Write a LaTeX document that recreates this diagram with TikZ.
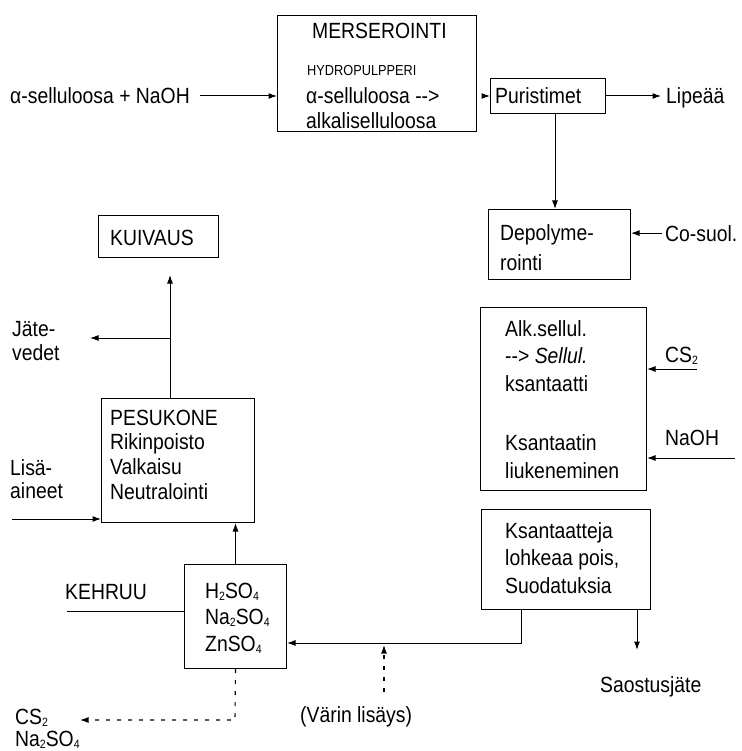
\documentclass[tikz,border=0pt]{standalone}
\usepackage{fontspec}
\setmainfont{Liberation Sans}[FakeStretch=0.88]
\usetikzlibrary{arrows.meta}
\newcommand{\chsub}[1]{\raisebox{-0.2ex}{\fontsize{12}{12}\selectfont #1}}
\begin{document}
\begin{tikzpicture}[x=1pt,y=-1pt,
  every node/.style={inner sep=0pt, font=\fontsize{22}{26}\selectfont},
  lbl/.style={anchor=base west},
  small/.style={anchor=base west, font=\fontsize{14.5}{17}\selectfont},
  procbox/.style={draw, line width=1pt, anchor=north west},
  flow/.style={line width=1pt, -{Latex[length=8.5pt,width=6pt]}},
  plain/.style={line width=1pt},
  dflow/.style={line width=1.1pt, dash pattern=on 4pt off 7pt, -{Latex[length=8.5pt,width=6pt]}}]
\useasboundingbox (0,0) rectangle (741,751);

% process boxes
\node[procbox, minimum width=199pt, minimum height=116pt] (merse) at (277,15) {};
\node[procbox, minimum width=115pt, minimum height=35pt] (puri) at (490,78) {};
\node[procbox, minimum width=142pt, minimum height=70pt] (depoly) at (488,209) {};
\node[procbox, minimum width=166pt, minimum height=183pt] (alk) at (480,307) {};
\node[procbox, minimum width=169pt, minimum height=100pt] (ksant) at (481,509) {};
\node[procbox, minimum width=102pt, minimum height=104pt] (bath) at (184,564) {};
\node[procbox, minimum width=153pt, minimum height=124pt] (pesu) at (101,398) {};
\node[procbox, minimum width=120pt, minimum height=42pt] (kuiv) at (98,215) {};

% texts in the boxes
\node[lbl] (mt1) at (312,39) {MERSEROINTI};
\node[small] (mt2) at (307,76) {HYDROPULPPERI};
\node[lbl] (mt3) at (306,104) {α-selluloosa -{}-{}>};
\node[lbl] (mt4) at (306,129) {alkaliselluloosa};
\node[lbl] (pt) at (495,104) {Puristimet};
\node[lbl] (dt1) at (500,240) {Depolyme-};
\node[lbl] (dt2) at (500,270) {rointi};
\node[lbl] (at1) at (505,336) {Alk.sellul.};
\node[lbl] (at2) at (505,363) {-{}-{}> \textit{Sellul.}};
\node[lbl] (at3) at (505,391) {ksantaatti};
\node[lbl] (at4) at (505,450) {Ksantaatin};
\node[lbl] (at5) at (505,478) {liukeneminen};
\node[lbl] (kt1) at (505,538) {Ksantaatteja};
\node[lbl] (kt2) at (505,565) {lohkeaa pois,};
\node[lbl] (kt3) at (505,593) {Suodatuksia};
\node[lbl] (bt1) at (205,598) {H\chsub{2}SO\chsub{4}};
\node[lbl] (bt2) at (205,624) {Na\chsub{2}SO\chsub{4}};
\node[lbl] (bt3) at (205,651) {ZnSO\chsub{4}};
\node[lbl] (pe1) at (110,425) {PESUKONE};
\node[lbl] (pe2) at (110,449) {Rikinpoisto};
\node[lbl] (pe3) at (110,474) {Valkaisu};
\node[lbl] (pe4) at (110,499) {Neutralointi};
\node[lbl] (kv) at (110,245) {KUIVAUS};

% free labels
\node[lbl] (inp) at (10,104) {α-selluloosa + NaOH};
\node[lbl] (lipe) at (666,104) {Lipeää};
\node[lbl] (cosu) at (665,241) {Co-suol.};
\node[lbl] (cs2r) at (665,362) {CS\chsub{2}};
\node[lbl] (naohr) at (665,445) {NaOH};
\node[lbl] (saos) at (600,692) {Saostusjäte};
\node[lbl] (varin) at (300,722) {(Värin lisäys)};
\node[lbl] (kehr) at (65,599) {KEHRUU};
\node[lbl] (cs2l) at (15,724) {CS\chsub{2}};
\node[lbl] (na2l) at (15,746) {Na\chsub{2}SO\chsub{4}};
\node[lbl] (lis1) at (10,475) {Lisä-};
\node[lbl] (lis2) at (10,498) {aineet};
\node[lbl] (jat1) at (12,336) {Jäte-};
\node[lbl] (jat2) at (12,360) {vedet};

% free ends of connectors
\coordinate (inptail) at (200,96);
\coordinate (puritail) at (485,96);
\coordinate (puritip) at (555,209);
\coordinate (cs2tail) at (697,369);
\coordinate (naohtail) at (735,458);
\coordinate (kbend) at (521,643);
\coordinate (saostip) at (637,650);
\coordinate (vtail) at (384,692);
\coordinate (vtip) at (384,645);
\coordinate (kehtail) at (67,611);
\coordinate (dcorner) at (235,720);
\coordinate (dtip) at (80,720);
\coordinate (listail) at (12,519);
\coordinate (kuivtip) at (170,275);
\coordinate (jatbranch) at (170,338);
\coordinate (jattip) at (90,338);

% connectors
\draw[flow] (inptail) -- (inptail -| merse.west);
\draw[flow] (puritail) -- (puritail -| puri.west);
\draw[flow] (puri.east |- puritail) -- (lipe.west |- puritail) [shorten >=5pt];
\draw[flow] (puritip |- puri.south) -- (puritip);
\draw[flow] ([xshift=-3pt]cosu.west) -- (cosu.west -| depoly.east);
\draw[flow] (cs2tail) -- (cs2tail -| alk.east);
\draw[flow] (naohtail) -- (naohtail -| alk.east);
\draw[flow] (kbend |- ksant.south) -- (kbend) -- (kbend -| bath.east);
\draw[flow] (saostip |- ksant.south) -- (saostip);
\draw[dflow] (vtail) -- (vtip);
\draw[plain] (kehtail) -- (kehtail -| bath.west);
\draw[dflow] (bath.south) -- (dcorner) -- (dtip);
\draw[flow] (bath.north) -- (bath.north |- pesu.south);
\draw[flow] (listail) -- (listail -| pesu.west);
\draw[flow] (kuivtip |- pesu.north) -- (kuivtip);
\draw[flow] (jatbranch) -- (jattip);
\end{tikzpicture}
\end{document}
